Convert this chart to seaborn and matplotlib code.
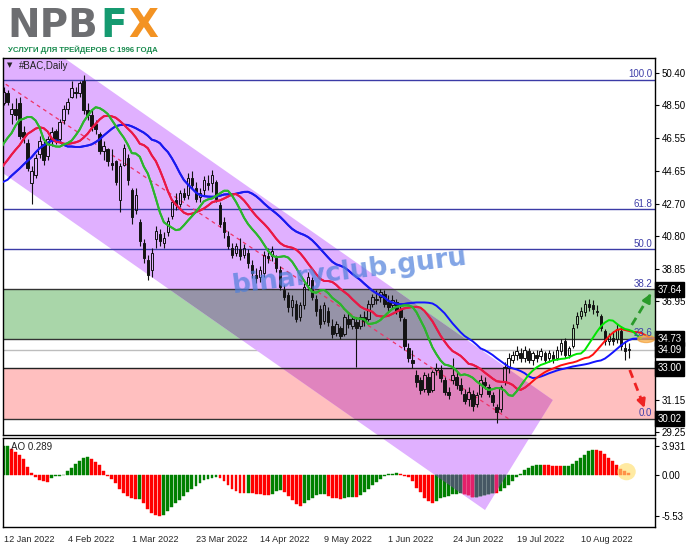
import matplotlib
matplotlib.use("Agg")
import matplotlib.pyplot as plt
from matplotlib.patches import Polygon, Rectangle, Ellipse
import seaborn as sns
import numpy as np
import pandas as pd

# daily bars of BAC, 12 Jan 2022 .. 26 Aug 2022
opens = [48.6, 49.2, 48.0, 48.3, 48.6, 46.9, 46.3, 43.9, 44.4, 45.6,
         46.2, 45.5, 46.5, 47.0, 46.5, 47.6, 48.3, 49.0, 49.3, 49.2,
         49.9, 48.2, 47.9, 47.4, 46.8, 45.8, 45.9, 45.1, 45.2, 42.9,
         45.0, 45.4, 43.5, 42.3, 41.6, 40.4, 39.4, 38.8, 40.6, 40.9,
         40.4, 41.0, 42.0, 42.9, 42.7, 43.3, 43.2, 44.2, 43.6, 43.1,
         43.5, 43.9, 43.9, 44.0, 42.6, 41.6, 40.8, 40.1, 39.8, 40.0,
         39.7, 39.8, 39.1, 38.5, 38.4, 38.6, 39.6, 39.6, 39.5, 38.8,
         37.6, 37.3, 36.6, 36.8, 36.0, 36.7, 37.9, 38.2, 37.1, 36.5,
         35.8, 36.4, 35.5, 35.1, 35.4, 35.0, 35.9, 35.5, 35.7, 35.5,
         36.0, 35.9, 36.8, 37.1, 37.2, 37.4, 36.9, 36.7, 36.9, 36.5,
         35.9, 34.2, 33.5, 32.6, 32.3, 31.8, 32.5, 31.7, 32.9, 32.9,
         32.3, 31.6, 32.3, 32.5, 32.0, 31.5, 31.2, 31.5, 30.9, 31.5,
         32.2, 31.9, 31.4, 30.7, 30.6, 32.2, 33.0, 33.5, 33.8, 33.9,
         33.6, 34.0, 33.5, 33.8, 33.7, 33.9, 33.6, 33.8, 33.6, 34.0,
         34.6, 33.8, 34.3, 35.6, 36.1, 36.3, 36.8, 36.7, 36.4, 36.1,
         35.2, 34.6, 34.8, 34.7, 35.2, 34.2, 34.1]
highs = [49.6, 49.4, 48.6, 48.9, 49.0, 47.3, 46.5, 44.9, 45.6, 46.7,
         46.4, 46.7, 47.2, 47.1, 47.7, 48.5, 48.9, 49.9, 49.6, 49.9,
         50.25, 48.6, 48.2, 47.6, 46.9, 46.4, 46.0, 45.9, 45.3, 45.1,
         46.2, 45.6, 43.6, 43.6, 41.8, 40.6, 39.7, 40.1, 41.4, 41.2,
         41.0, 41.9, 43.0, 43.3, 43.5, 43.6, 44.5, 44.6, 44.0, 43.6,
         44.3, 44.4, 44.7, 44.1, 42.8, 41.9, 41.1, 40.4, 40.4, 40.7,
         40.3, 40.0, 39.4, 38.9, 39.0, 39.9, 40.1, 40.2, 39.7, 39.0,
         37.9, 37.5, 37.3, 37.0, 36.9, 38.0, 38.7, 38.4, 37.3, 36.7,
         36.9, 36.6, 35.9, 35.8, 35.5, 36.2, 36.3, 36.1, 36.0, 36.2,
         36.4, 37.0, 37.4, 37.6, 37.7, 37.6, 37.3, 37.3, 37.1, 36.8,
         36.0, 34.5, 34.1, 32.9, 32.5, 32.8, 32.7, 32.9, 33.3, 33.2,
         32.5, 31.9, 33.6, 32.8, 32.4, 31.8, 31.9, 31.7, 31.6, 32.6,
         32.5, 32.1, 31.6, 30.9, 32.0, 33.4, 33.9, 34.0, 34.3, 34.2,
         34.3, 34.2, 34.0, 34.1, 34.2, 34.0, 34.1, 34.0, 34.3, 34.7,
         34.8, 34.3, 35.6, 36.3, 36.6, 37.05, 37.1, 37.0, 36.7, 36.2,
         35.3, 35.1, 35.2, 35.6, 35.5, 34.6, 34.5]
lows = [48.5, 48.5, 47.4, 47.6, 46.5, 46.3, 44.6, 42.7, 44.2, 45.4,
        45.0, 45.3, 46.1, 46.2, 46.3, 47.4, 48.0, 48.9, 48.9, 49.0,
        48.0, 47.6, 47.0, 46.8, 45.6, 45.3, 44.9, 44.7, 43.8, 42.2,
        44.9, 43.8, 41.5, 42.1, 40.2, 39.2, 38.2, 38.4, 40.1, 40.2,
        40.1, 40.8, 41.8, 42.3, 42.5, 42.9, 43.0, 43.6, 42.8, 42.8,
        43.2, 43.5, 43.4, 42.8, 41.3, 40.7, 40.0, 39.5, 39.6, 39.4,
        39.5, 38.9, 38.3, 38.0, 38.1, 38.4, 39.2, 39.3, 38.7, 37.6,
        37.0, 36.3, 36.1, 35.7, 35.8, 36.5, 37.6, 37.0, 36.1, 35.4,
        35.6, 35.5, 34.8, 34.9, 34.7, 34.9, 35.4, 35.3, 33.05, 35.3,
        35.5, 35.8, 36.6, 36.8, 36.9, 36.6, 36.4, 36.5, 36.2, 35.8,
        34.1, 33.4, 33.0, 31.9, 31.5, 31.6, 31.4, 31.6, 32.6, 32.2,
        31.4, 31.2, 32.1, 31.8, 31.5, 30.9, 30.8, 30.5, 30.7, 31.3,
        31.8, 31.3, 30.8, 29.75, 30.4, 32.0, 32.7, 33.3, 33.5, 33.4,
        33.4, 33.3, 33.2, 33.4, 33.5, 33.3, 33.4, 33.3, 33.5, 33.8,
        33.6, 33.6, 34.2, 35.4, 35.9, 36.1, 36.4, 36.2, 36.1, 35.2,
        34.4, 34.4, 34.4, 34.5, 34.1, 33.5, 33.6]
closes = [49.3, 48.7, 48.3, 47.9, 46.7, 46.6, 44.8, 44.6, 45.4, 46.4,
          45.3, 46.5, 46.9, 46.4, 47.5, 48.3, 48.7, 49.5, 49.2, 49.8,
          48.2, 47.9, 47.3, 47.1, 45.8, 46.1, 45.2, 45.0, 44.0, 44.9,
          46.0, 44.1, 41.9, 43.2, 40.5, 39.5, 38.5, 39.8, 41.1, 40.5,
          40.7, 41.7, 42.8, 42.6, 43.3, 43.1, 44.2, 43.8, 43.0, 43.3,
          44.1, 43.8, 44.4, 43.0, 41.5, 41.0, 40.2, 39.7, 40.2, 39.6,
          40.1, 39.2, 38.6, 38.3, 38.8, 39.7, 39.5, 39.9, 38.9, 37.8,
          37.2, 36.6, 37.0, 35.9, 36.7, 37.8, 38.4, 37.2, 36.4, 35.6,
          36.7, 35.7, 35.0, 35.6, 34.9, 36.0, 35.6, 35.9, 35.4, 36.0,
          35.8, 36.8, 37.2, 37.0, 37.5, 36.8, 36.6, 37.0, 36.4, 36.0,
          34.3, 33.6, 33.3, 32.2, 31.7, 32.6, 31.6, 32.8, 33.0, 32.4,
          31.6, 31.4, 32.6, 32.0, 31.7, 31.1, 31.6, 30.8, 31.4, 32.3,
          32.0, 31.5, 31.0, 30.4, 31.9, 33.1, 33.6, 33.8, 34.0, 33.6,
          34.1, 33.5, 33.9, 33.6, 34.0, 33.5, 33.9, 33.5, 34.1, 34.5,
          33.8, 34.2, 35.4, 36.1, 36.4, 36.8, 36.6, 36.5, 36.3, 35.4,
          34.6, 34.9, 34.6, 35.3, 34.3, 34.0, 34.09]

# Awesome Oscillator histogram, one value per bar
ao_values = [3.90, 3.931, 3.52, 3.12, 2.72, 2.12, 1.12, 0.32, -0.26, -0.63,
             -0.82, -0.93, -0.44, -0.18, -0.07, 0.04, 0.52, 1.00, 1.52, 1.92,
             2.32, 2.44, 2.12, 1.72, 1.32, 0.52, -0.07, -0.56, -1.11, -1.93,
             -2.42, -2.79, -3.05, -3.23, -3.16, -3.79, -4.54, -5.09, -5.39, -5.53,
             -5.39, -4.79, -4.28, -3.79, -3.31, -2.79, -2.30, -1.82, -1.45, -1.00,
             -0.71, -0.56, -0.44, -0.26, -0.44, -0.82, -1.37, -1.82, -2.19, -2.35,
             -2.42, -2.40, -2.44, -2.49, -2.50, -2.60, -2.68, -2.49, -2.19, -2.04,
             -2.30, -2.86, -3.31, -3.90, -4.16, -3.68, -3.31, -3.05, -2.68, -2.49,
             -2.47, -2.86, -3.05, -3.12, -3.16, -3.05, -2.97, -2.93, -2.99, -2.68,
             -2.30, -1.93, -1.37, -0.93, -0.56, -0.15, 0.12, 0.20, 0.24, 0.12,
             -0.07, -0.26, -0.82, -1.67, -2.30, -3.05, -3.53, -3.75, -3.53, -3.05,
             -2.93, -2.75, -2.57, -2.49, -2.42, -2.49, -2.68, -2.93, -2.90, -2.79,
             -2.68, -2.49, -2.42, -2.45, -2.12, -1.75, -1.37, -0.82, -0.26, 0.20,
             0.72, 1.00, 1.20, 1.32, 1.40, 1.37, 1.32, 1.25, 1.22, 1.20,
             1.24, 1.27, 1.53, 1.92, 2.32, 2.72, 3.24, 3.40, 3.37, 3.27,
             2.82, 2.28, 1.83, 1.29, 0.84, 0.59, 0.289]

# median prices before the first shown bar (where the Alligator lines start)
warmup_median = [43.6, 43.9, 44.3, 44.0, 43.8, 43.5, 43.9, 44.2, 44.4, 44.5,
                 44.5, 44.4, 44.6, 45.5, 47.2, 47.1, 47.3, 47.8, 47.9, 48.0]

date_ticks = [0, 16, 32, 48, 64, 80, 96, 112, 128, 144]
date_labels = ["12 Jan 2022", "4 Feb 2022", "1 Mar 2022", "23 Mar 2022", "14 Apr 2022",
               "9 May 2022", "1 Jun 2022", "24 Jun 2022", "19 Jul 2022", "10 Aug 2022"]
price_ticks = [50.40, 48.50, 46.55, 44.65, 42.70, 40.80, 38.85, 36.95, 35.00, 33.00, 31.15, 29.25]
ao_ticks = [3.931, 0.0, -5.53]
ao_tick_labels = ["3.931", "0.00", "-5.53"]

fib_low, fib_high = 30.02, 49.98
fib_levels = [0.0, 23.6, 38.2, 50.0, 61.8, 100.0]
marked_prices = ["37.64", "34.73", "34.09", "33.00", "30.02"]
support_zone = (30.02, 33.00)
resist_zone = (34.73, 37.64)
# corners of the drawn channel (bar index, price)
channel_pts = [(-5, 54.61), (137.0, 31.13), (120.1, 24.65), (-5, 45.30)]

n = len(closes)
idx = np.arange(n)
o, h, l, c = (np.array(v) for v in (opens, highs, lows, closes))

sns.set_style("white")
plt.rcParams["font.family"] = ["Liberation Sans", "DejaVu Sans"]

W, H = 691, 549
fig = plt.figure(figsize=(W / 100, H / 100), dpi=100)
ax = fig.add_axes([3 / W, 114 / H, 652 / W, 377 / H])
ax_ao = fig.add_axes([3 / W, 22 / H, 652 / W, 89 / H])

xmin, xmax = -0.125, 162.5
ax.set_xlim(xmin, xmax)
ax.set_ylim(29.07, 51.28)
ax_ao.set_xlim(xmin, xmax)
ax_ao.set_ylim(-6.94, 4.95)

purple = "#e0b0ff"
# zones
ax.add_patch(Rectangle((xmin, resist_zone[0]), xmax - xmin, resist_zone[1] - resist_zone[0],
                       fc="#a9d6a9", ec="none", zorder=0.5))
ax.add_patch(Rectangle((xmin, support_zone[0]), xmax - xmin, support_zone[1] - support_zone[0],
                       fc="#ffbfbf", ec="none", zorder=0.5))
ax.axhline(float(marked_prices[2]), color="#bdbdbd", lw=1, zorder=0.55)

chan = Polygon(channel_pts, closed=True, fc=purple, ec="none", zorder=0.6)
ax.add_patch(chan)
for (y0, y1), col in ((resist_zone, "#9693a8"), (support_zone, "#e084be")):
    r = Rectangle((xmin, y0), xmax - xmin, y1 - y0, fc=col, ec="none", zorder=0.7)
    ax.add_patch(r)
    r.set_clip_path(chan)

# fibo levels and zone borders
fib_rng = fib_high - fib_low
for lvl in fib_levels:
    p = fib_low + lvl / 100 * fib_rng
    col = "#3b3ba6" if lvl in (50.0, 61.8, 100.0) else "#333333"
    ax.axhline(p, color=col, lw=1, zorder=1)
    ax.text(161.8, p + 0.05, f"{lvl:.1f}", ha="right", va="bottom", fontsize=7,
            color="#3f3fa8", zorder=5)
ax.axhline(support_zone[1], color="#222222", lw=1, zorder=1)
ax.plot([-1, 126], [fib_high, fib_low], color="#ee3366", lw=0.9, ls=(0, (3, 3)), zorder=1.5)

# candles
up = c >= o
top = np.maximum(o, c)
bot = np.minimum(o, c)
ax.vlines(idx, top, h, color="#111111", lw=0.8, zorder=2)
ax.vlines(idx, l, bot, color="#111111", lw=0.8, zorder=2)
body = np.maximum(top - bot, 0.04)
ax.bar(idx[up], body[up], bottom=bot[up], width=0.62, facecolor="none",
       edgecolor="#111111", linewidth=0.7, zorder=2)
ax.bar(idx[~up], body[~up], bottom=bot[~up], width=0.62, facecolor="#141414",
       edgecolor="#141414", linewidth=0.7, zorder=2)

# Alligator: SMMA of median price, shifted forward
med = pd.Series(list(warmup_median) + list((h + l) / 2))
x_all = np.arange(-len(warmup_median), n)
lines = [(13, 8, "#1414ff", "#1a1aee"), (8, 5, "#ff1010", "#e8174a"), (5, 3, "#00e600", "#30b030")]
for period, shift, col, tint in lines:
    smma = med.ewm(alpha=1 / period, adjust=False).mean().to_numpy()
    xs = x_all + shift
    keep = xs >= -2
    df = pd.DataFrame({"bar": xs[keep], "value": smma[keep]})
    for colr, clip in ((col, False), (tint, True)):
        sns.lineplot(data=df, x="bar", y="value", ax=ax, color=colr, lw=1.4,
                     sort=False, estimator=None, zorder=3)
        if clip:
            ax.lines[-1].set_clip_path(chan)

# forecast arrows and highlight
ax.plot([156.7, 161.2], [35.55, 37.3], color="#2a9a2a", lw=2, ls=(0, (3, 2)), zorder=4)
ax.annotate("", xy=(161.8, 37.55), xytext=(160.8, 37.1),
            arrowprops=dict(arrowstyle="-|>", color="#2a9a2a", lw=2, mutation_scale=12), zorder=4)
ax.plot([156.2, 159.6], [32.9, 30.85], color="#ee2222", lw=2, ls=(0, (3, 2)), zorder=4)
ax.annotate("", xy=(160.1, 30.5), xytext=(159.2, 31.1),
            arrowprops=dict(arrowstyle="-|>", color="#ee2222", lw=2, mutation_scale=12), zorder=4)
ax.add_patch(Ellipse((160.3, 34.73), 4.2, 0.42, fc="#ffb347", ec="#f09a30", alpha=0.7, zorder=4))

# AO histogram
ao = np.array(ao_values)
rising = np.r_[True, ao[1:] > ao[:-1]]
ax_ao.add_patch(Polygon(channel_pts, closed=True, fc=purple, ec="none", zorder=0.6,
                        transform=ax.transData))
chan_ao = Polygon(channel_pts, closed=True, fc="none", ec="none", transform=ax.transData)
ax_ao.add_patch(chan_ao)
ao_col = np.where(rising, "#008000", "#ff0000")
ao_tint = np.where(rising, "#465864", "#e3206a")
ax_ao.bar(idx, ao, width=0.72, color=ao_col, edgecolor=ao_col, linewidth=0.3, zorder=2)
tinted = ax_ao.bar(idx, ao, width=0.72, color=ao_tint, edgecolor=ao_tint, linewidth=0.3,
                   zorder=2.1)
for patch in tinted:
    patch.set_clip_path(chan_ao)
ax_ao.add_patch(Ellipse((155.4, 0.45), 4.6, 2.3, fc="#ffe070", ec="none", alpha=0.65, zorder=3))

# axes cosmetics
for a in (ax, ax_ao):
    for s in a.spines.values():
        s.set_color("black")
        s.set_linewidth(1)
    a.yaxis.tick_right()
    a.tick_params(axis="y", direction="out", length=3, width=0.8, labelsize=7, pad=2,
                  colors="black")
    a.set_xlabel("")
    a.set_ylabel("")
ax.set_yticks(price_ticks)
# the 35.00 and 33.00 labels sit under the marked-price boxes
ax.set_yticklabels(["" if p in (35.00, 33.00) else f"{p:.2f}" for p in price_ticks])
ax.set_xticks([])
ax_ao.set_yticks(ao_ticks)
ax_ao.set_yticklabels(ao_tick_labels)
ax_ao.set_xticks(date_ticks)
ax_ao.set_xticklabels(date_labels, ha="left")
ax_ao.tick_params(axis="x", direction="out", length=4, width=0.8, labelsize=6.6, pad=2)

for lab in marked_prices:
    ax.text(1.004, float(lab), lab, transform=ax.get_yaxis_transform(), ha="left", va="center",
            fontsize=7, color="white", zorder=6, clip_on=False,
            bbox=dict(boxstyle="square,pad=0.25", fc="black", ec="black"))

ax.text(0.006, 0.988, "\u25bc", transform=ax.transAxes, fontsize=5, va="top", color="#222222",
        family="DejaVu Sans")
ax.text(0.025, 0.992, "#BAC,Daily", transform=ax.transAxes, fontsize=7, va="top", color="#222222")
ax_ao.text(0.012, 0.96, f"AO {ao_values[-1]:.3f}", transform=ax_ao.transAxes, fontsize=7,
           va="top", color="#222222")

# watermark and logo
fig.text(350 / W, 1 - 272 / H, "binaryclub.guru", rotation=7, color="#4d7fdb", alpha=0.7,
         fontsize=19, fontweight="bold", ha="center", va="center", family="DejaVu Sans")
logo_font = dict(fontsize=28, fontweight="bold", va="baseline", family="DejaVu Sans")
fig.text(7 / W, 1 - 37 / H, "NPB", color="#6d6e71", **logo_font)
fig.text(100 / W, 1 - 37 / H, "F", color="#159a70", **logo_font)
fig.text(128 / W, 1 - 37 / H, "X", color="#f39323", **logo_font)
fig.text(8 / W, 1 - 52 / H, "УСЛУГИ ДЛЯ ТРЕЙДЕРОВ С 1996 ГОДА", fontsize=5.6,
         fontweight="bold", color="#178a4c", va="baseline")

fig.savefig("out.png", dpi=100)
plt.close(fig)
